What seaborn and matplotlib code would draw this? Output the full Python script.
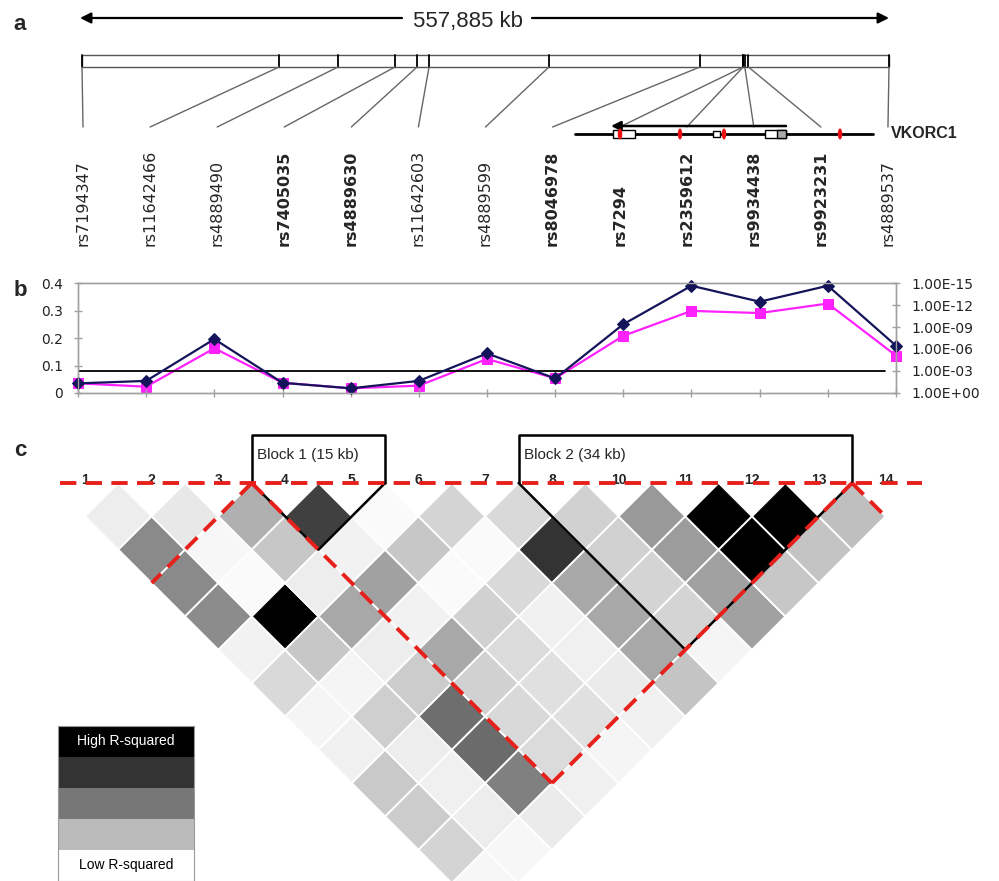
import numpy as np
import pandas as pd
import matplotlib
matplotlib.use('Agg')
import matplotlib.pyplot as plt
import seaborn as sns
from matplotlib.patches import Polygon, Rectangle, Ellipse
from matplotlib.colors import ListedColormap

# ---- data ---------------------------------------------------------------
region_kb = 557.885

snp_names = ['rs7194347', 'rs11642466', 'rs4889490', 'rs7405035', 'rs4889630',
             'rs11642603', 'rs4889599', 'rs8046978', 'rs7294', 'rs2359612',
             'rs9934438', 'rs9923231', 'rs4889537']
snp_bold = [False, False, False, True, True, False, False, True, True, True,
            True, True, False]
snp_pos_kb = [0.0, 136.2, 177.0, 216.4, 231.6, 239.9, 322.8, 427.2, 457.0,
              457.1, 458.2, 460.7, 557.885]

# panel b
r2_values = [0.035, 0.044, 0.196, 0.037, 0.017, 0.044, 0.144, 0.053, 0.250,
             0.390, 0.332, 0.390, 0.172]
neg_log_p = [1.32, 0.86, 6.1, 1.4, 0.64, 1.0, 4.64, 2.0, 7.8, 11.2, 10.9,
             12.2, 5.1]
p_threshold = 3

# panel c: r-squared of marker i with markers i+1 .. 13
ld_labels = ['1', '2', '3', '4', '5', '6', '7', '8', '10', '11', '12', '13', '14']
ld_r2 = [
    [.07, .46, .46, .45, .05, .15, .04, .06, .21, .20, .17, .03],
    [.09, .03, .02, 1.0, .22, .04, .19, .07, .06, .07, .03],
    [.31, .22, .07, .34, .07, .20, .57, .58, .50, .08],
    [.75, .05, .37, .05, .34, .18, .15, .14, .06],
    [.02, .22, .02, .18, .14, .12, .12, .04],
    [.17, .02, .15, .06, .06, .08, .06],
    [.15, .80, .34, .34, .34, .23],
    [.18, .18, .17, .17, .04],
    [.40, .39, .37, .37],
    [1.0, 1.0, .22],
    [1.0, .23],
    [.25],
]
block_names = ['Block 1 (15 kb)', 'Block 2 (34 kb)']
block_markers = [(3, 4), (7, 11)]
ld_region = (3, 11)
legend_shades = ['#000000', '#333333', '#777777', '#bbbbbb', '#ffffff']

# ---- figure -------------------------------------------------------------
sns.set_style('white')
plt.rcParams['font.family'] = ['DejaVu Sans']
ARIAL = 'Liberation Sans'

fig = plt.figure(figsize=(9.99, 8.81), dpi=100)
cv = fig.add_axes([0, 0, 1, 1])
cv.set_xlim(0, 999)
cv.set_ylim(881, 0)
cv.axis('off')

for lab, yy in [('a', 24), ('b', 290), ('c', 450)]:
    cv.text(20, yy, lab, fontsize=16, fontweight='bold', family=ARIAL,
            ha='center', va='center')

# ---- panel a ------------------------------------------------------------
arrow = dict(arrowstyle='-|>', lw=1.6, color='black', mutation_scale=16,
             shrinkA=0, shrinkB=0)
cv.annotate('', xy=(80, 18), xytext=(402, 18), arrowprops=arrow)
cv.annotate('', xy=(889, 18), xytext=(532, 18), arrowprops=arrow)
cv.text(468, 21, f'{region_kb * 1000:,.0f} kb', fontsize=16, family=ARIAL,
        ha='center', va='center')

bar_x0, bar_w = 82, 807
cv.add_patch(Rectangle((bar_x0, 55), bar_w, 12, fill=False, ec='#555555', lw=1))
label_x = 83 + 67.08 * np.arange(len(snp_names))
for k, name in enumerate(snp_names):
    x = bar_x0 + snp_pos_kb[k] / region_kb * bar_w
    cv.plot([x, x], [55, 67], color='black', lw=1.3)
    cv.plot([x, label_x[k]], [67, 127], color='#666666', lw=1)
    cv.text(label_x[k], 246, name, rotation=90, ha='center', va='bottom',
            fontsize=11.5, fontweight='bold' if snp_bold[k] else 'normal')

# VKORC1 gene model
cv.plot([575, 873], [134, 134], color='black', lw=2)
cv.annotate('', xy=(611, 126), xytext=(786, 126),
            arrowprops=dict(arrowstyle='-|>', lw=1.8, color='black',
                            mutation_scale=14, shrinkA=0, shrinkB=0))
cv.add_patch(Rectangle((613, 130), 22, 8, fc='white', ec='black', lw=1, zorder=3))
cv.add_patch(Rectangle((713, 131), 7, 6, fc='white', ec='black', lw=1, zorder=3))
cv.add_patch(Rectangle((765, 130), 21, 8, fc='white', ec='black', lw=1, zorder=3))
cv.add_patch(Rectangle((777, 130), 9, 8, fc='#aaaaaa', ec='black', lw=1, zorder=3))
for x in [620, 680, 724, 840]:
    cv.add_patch(Ellipse((x, 134), 4.5, 11, fc='#ee1111', ec='none', zorder=4))
cv.text(891, 134, 'VKORC1', fontsize=11.5, fontweight='bold', family=ARIAL,
        ha='left', va='center')

# ---- panel b ------------------------------------------------------------
navy, magenta, grey = '#14145a', '#ff22ff', '#a0a0a0'
axb = fig.add_axes([78 / 999, 1 - 393 / 881, 818 / 999, 110 / 881])
axr = axb.twinx()
df_b = pd.DataFrame({'snp': np.arange(len(r2_values)), 'r2': r2_values,
                     'logp': neg_log_p})
sns.lineplot(data=df_b, x='snp', y='logp', ax=axr, color=magenta, marker='s',
             markersize=6.5, markeredgecolor=magenta, lw=1.6, clip_on=False)
axr.plot([0, 11.84], [p_threshold, p_threshold], color='black', lw=1.3)
sns.lineplot(data=df_b, x='snp', y='r2', ax=axb, color=navy, marker='D',
             markersize=6, markeredgecolor=navy, lw=1.6, clip_on=False)
axb.set_zorder(axr.get_zorder() + 1)
axb.patch.set_visible(False)

axb.set_xlim(0, 12)
axb.set_ylim(0, 0.4)
axr.set_ylim(0, 15)
axb.set_xticks(range(13))
axb.set_xticklabels([])
axb.set_yticks([0, 0.1, 0.2, 0.3, 0.4])
axb.set_yticklabels(['0', '0.1', '0.2', '0.3', '0.4'])
axr.set_yticks(range(0, 16, 3))
axr.set_yticklabels(['1.00E+00'] + [f'1.00E-{v:02d}' for v in range(3, 16, 3)])
for a in (axb, axr):
    a.set_xlabel('')
    a.set_ylabel('')
    for s in a.spines.values():
        s.set_color(grey)
        s.set_linewidth(1)
    a.tick_params(direction='inout', length=6, width=1, color=grey,
                  labelsize=10, pad=8, labelcolor='#222222')
axb.tick_params(axis='y', left=True)
axb.tick_params(axis='x', bottom=True)
axr.tick_params(axis='y', right=True)

# ---- panel c ------------------------------------------------------------
cx0, h, y0 = 85, 33.35, 483


def pt(a, b):
    return cx0 + h * a, y0 + h * b


for i, row in enumerate(ld_r2):
    for k, r2 in enumerate(row):
        j = i + 1 + k
        cx, cy = pt(i + j, j - i)
        g = 1 - r2
        cv.add_patch(Polygon([(cx, cy - h), (cx + h, cy), (cx, cy + h), (cx - h, cy)],
                             closed=True, fc=(g, g, g), ec='white', lw=1.3, zorder=2))

for i, lab in enumerate(ld_labels):
    cv.text(cx0 + 2 * h * i, 484, lab, fontsize=10, fontweight='bold',
            family=ARIAL, ha='center', va='baseline', zorder=5)

for name, (s, e) in zip(block_names, block_markers):
    xl, _ = pt(2 * s - 1, 0)
    xr, _ = pt(2 * e + 1, 0)
    ax_, ay_ = pt(s + e, e - s + 1)
    cv.plot([xl, xl, xr, xr], [y0, 435, 435, y0], color='black', lw=1.8, zorder=4)
    cv.plot([xl, ax_, xr], [y0, ay_, y0], color='black', lw=1.8, zorder=4)
    cv.text(xl + 5, 455, name, fontsize=11, family=ARIAL, ha='left', va='center',
            zorder=5)

red = dict(color='#e8201c', lw=2.8, ls=(0, (4.2, 2.4)), zorder=6)
lo, hi = ld_region
n = len(ld_labels)
cv.plot([60, 922], [y0, y0], **red)
segs = [((2 * lo - 1, 0), (lo - 1, lo)),
        ((2 * lo - 1, 0), (lo + hi, hi - lo + 1)),
        ((lo + hi, hi - lo + 1), (2 * hi + 1, 0)),
        ((2 * hi + 1, 0), (n + hi, n - hi - 1))]
for p1, p2 in segs:
    (x1, y1), (x2, y2) = pt(*p1), pt(*p2)
    cv.plot([x1, x2], [y1, y2], **red)

# legend
axl = fig.add_axes([58 / 999, 0, 136 / 999, 155 / 881])
sns.heatmap(np.arange(len(legend_shades)).reshape(-1, 1), ax=axl,
            cmap=ListedColormap(legend_shades), cbar=False,
            xticklabels=False, yticklabels=False, vmin=-0.5,
            vmax=len(legend_shades) - 0.5)
for s in axl.spines.values():
    s.set_visible(True)
    s.set_color('#999999')
axl.text(0.5, 0.5, 'High R-squared', color='white', fontsize=10, family=ARIAL,
         ha='center', va='center')
axl.text(0.5, 4.5, 'Low R-squared', color='black', fontsize=10, family=ARIAL,
         ha='center', va='center')

fig.savefig('out.png', dpi=100)
